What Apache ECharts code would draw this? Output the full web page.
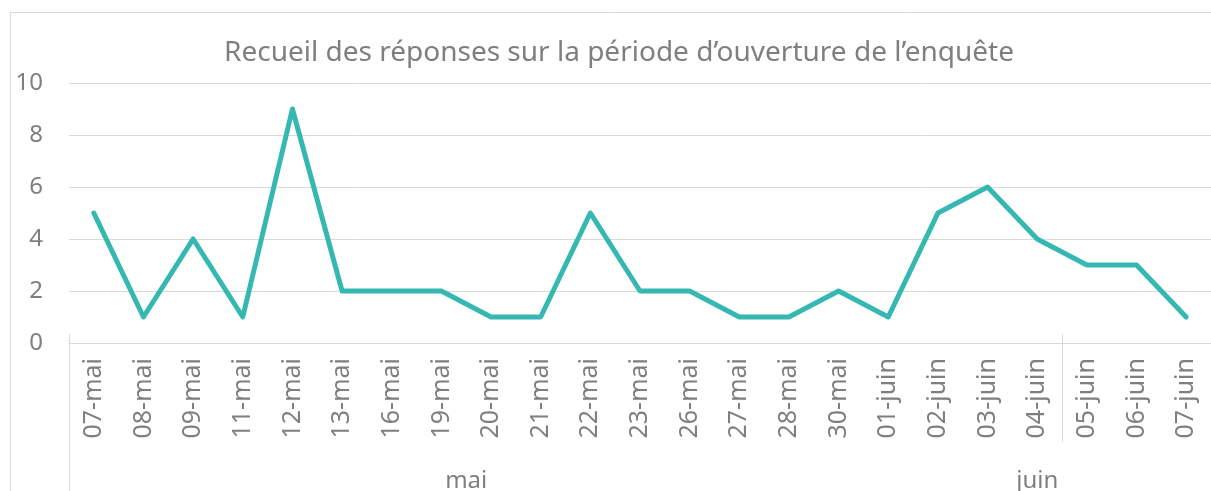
<!DOCTYPE html>
<html>
<head>
<meta charset="utf-8">
<script src="https://cdn.jsdelivr.net/npm/echarts@6/dist/echarts.min.js"></script>
<style>
html, body { margin: 0; padding: 0; background: #fff; }
#chart { width: 1211px; height: 491px; }
</style>
</head>
<body>
<div id="chart"></div>
<script>
var dates = ['07-mai','08-mai','09-mai','11-mai','12-mai','13-mai','16-mai','19-mai','20-mai','21-mai','22-mai','23-mai','26-mai','27-mai','28-mai','30-mai','01-juin','02-juin','03-juin','04-juin','05-juin','06-juin','07-juin'];
var responses = [5, 1, 4, 1, 9, 2, 2, 2, 1, 1, 5, 2, 2, 1, 1, 2, 1, 5, 6, 4, 3, 3, 1];
var yTicks = [0, 2, 4, 6, 8, 10];
// groupes de mois : nom, premier index, dernier index + 1
var monthNames = ['mai', 'juin'];
var monthStart = [0, 16];
var monthEnd = [16, 23];
var separators = [0, 20];

var fontFam = '"Noto Sans", "Open Sans", sans-serif';
var grey = '#7f7f7f';
var monthCenters = [];
for (var i = 0; i < monthNames.length; i++) {
  monthCenters.push((monthStart[i] + monthEnd[i]) / 2);
}

var myChart = echarts.init(document.getElementById('chart'));
var option = {
  animation: false,
  title: {
    text: 'Recueil des réponses sur la période d’ouverture de l’enquête',
    left: 614,
    textAlign: 'center',
    top: 34,
    textStyle: { color: grey, fontFamily: fontFam, fontSize: 28, fontWeight: 'normal' }
  },
  graphic: [{
    type: 'rect',
    shape: { x: 10.5, y: 12.5, width: 1400, height: 600 },
    style: { fill: 'none', stroke: '#d9d9d9', lineWidth: 1 },
    silent: true
  }],
  grid: { left: 69, right: 0, top: 83, bottom: 148, outerBoundsMode: 'none' },
  xAxis: [{
    type: 'category',
    data: dates,
    boundaryGap: true,
    axisLine: { show: true, lineStyle: { color: '#d9d9d9' } },
    axisTick: { show: false },
    axisLabel: {
      interval: 0, rotate: 90, margin: 15,
      color: grey, fontFamily: fontFam, fontSize: 25
    }
  }, {
    type: 'value',
    min: 0, max: dates.length,
    position: 'bottom',
    offset: -9,
    axisLine: { show: false },
    splitLine: { show: false },
    axisTick: { show: true, customValues: [separators[0]], length: 160, lineStyle: { color: '#d9d9d9' } },
    axisLabel: {
      show: true,
      customValues: monthCenters,
      margin: 135,
      color: grey, fontFamily: fontFam, fontSize: 24,
      formatter: function (v) {
        var idx = monthCenters.indexOf(v);
        return idx >= 0 ? monthNames[idx] : '';
      }
    }
  }, {
    type: 'value',
    min: 0, max: dates.length,
    position: 'bottom',
    offset: -9,
    axisLine: { show: false },
    splitLine: { show: false },
    axisTick: { show: true, customValues: [separators[1]], length: 108, lineStyle: { color: '#d9d9d9' } },
    axisLabel: { show: false }
  }],
  yAxis: {
    type: 'value',
    min: yTicks[0],
    max: yTicks[yTicks.length - 1],
    interval: yTicks[1] - yTicks[0],
    axisLine: { show: false },
    axisTick: { show: false },
    splitLine: { lineStyle: { color: '#d9d9d9', width: 1 } },
    axisLabel: { margin: 26, color: grey, fontFamily: fontFam, fontSize: 24 }
  },
  series: [{
    type: 'line',
    data: responses,
    showSymbol: false,
    symbol: 'none',
    lineStyle: { color: '#36b8b2', width: 5, cap: 'round', join: 'round' }
  }]
};
myChart.setOption(option);
</script>
</body>
</html>
